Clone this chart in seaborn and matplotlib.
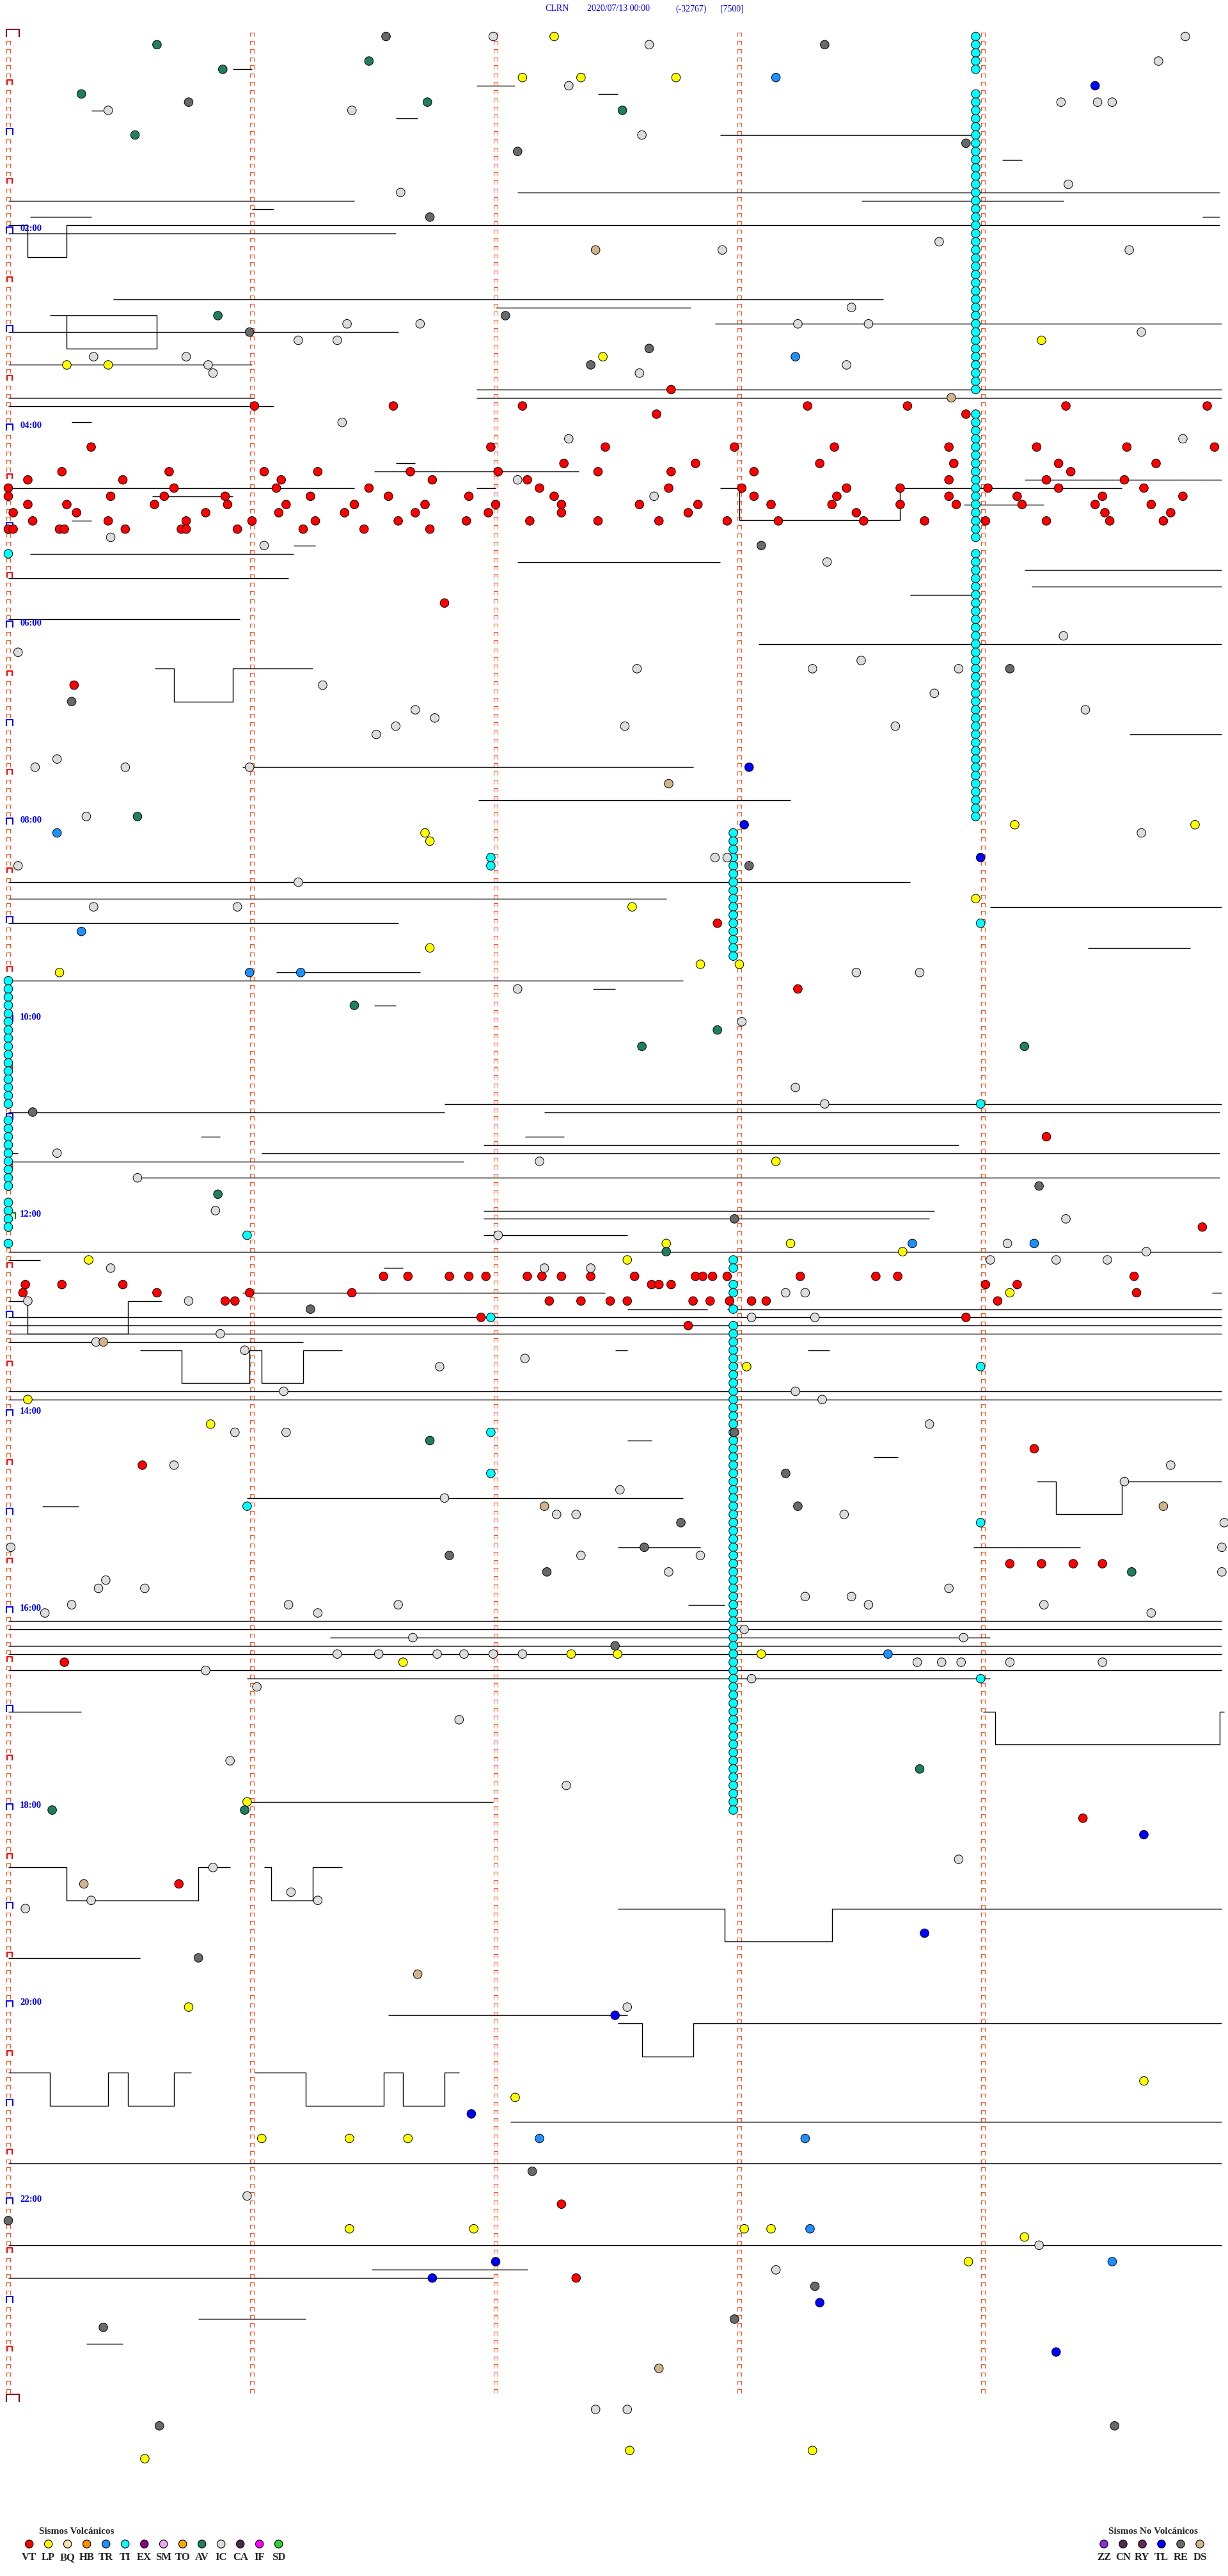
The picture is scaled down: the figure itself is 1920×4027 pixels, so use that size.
import numpy as np
import pandas as pd
import matplotlib
matplotlib.use("Agg")
import matplotlib.pyplot as plt
from matplotlib.path import Path
import seaborn as sns

# helicorder CLRN 2020/07/13: one line = 5 minutes, 288 lines per day
MIN_PER_ROW = 5.0
N_ROWS = 288

# event times in minutes after 00:00
vt_times = [217.72, 226.01, 226.58, 227.11, 228.28, 228.69, 229.34, 229.92, 232.66, 233.93,
            250.34, 251.98, 252.45, 252.98, 253.39, 253.86, 254.22, 254.59, 254.95,
            262.28, 262.82, 263.33, 263.88, 264.31, 264.71,
            265.22, 265.66, 266.05, 266.27, 266.65, 267.01, 267.42, 267.72, 268.06, 269.36,
            270.08, 270.47, 271.12, 271.74, 272.13, 273.86, 274.26, 274.58,
            275.0, 275.68, 276.10, 276.48, 277.18, 277.71, 278.01, 278.44, 278.66, 279.02, 279.31, 279.66,
            280.0, 280.42, 280.64, 280.89, 281.24, 281.56, 281.89, 282.24, 283.06, 283.40, 283.86,
            284.14, 284.49, 284.82,
            285.08, 285.24, 285.60, 285.90, 286.14, 286.42, 286.71, 287.0, 287.27, 287.59, 287.83,
            288.13, 288.38, 288.66, 288.89, 289.16, 289.46, 289.69,
            290.02, 290.28, 290.81, 291.11, 291.38, 291.67, 291.97, 292.27, 292.79, 293.48, 294.50, 294.77,
            295.10, 295.41, 295.73, 296.0, 296.26, 296.60, 296.88, 297.14, 297.42, 297.67, 297.95,
            298.16, 298.51, 298.76, 299.01, 299.26, 299.52, 299.74,
            300.0, 300.02, 300.21, 300.23, 300.48, 300.71, 300.73, 300.94, 301.21, 301.46, 301.73,
            346.79, 395.27, 542.91, 583.24, 674.26, 729.90,
            756.54, 756.64, 756.81, 756.89, 756.96, 757.13, 757.19, 757.27, 757.39, 757.57, 757.82,
            757.85, 757.89, 757.95, 758.25, 758.56, 758.65, 759.62,
            760.07, 760.22, 760.47, 762.64, 762.67, 762.72, 764.01, 764.14,
            765.06, 765.61, 765.99, 766.41, 769.63,
            770.89, 770.93, 772.22, 772.35, 772.47, 772.54, 772.81, 772.88, 772.96, 773.05, 773.11, 774.06,
            781.94, 783.93, 787.79, 864.21, 870.55, 934.11, 934.24, 934.37, 934.49,
            990.23, 1089.41, 1125.70, 1322.27, 1367.33]

lp_times = [2.24, 27.11, 27.35, 27.74, 189.24, 197.44, 200.24, 200.41, 484.13, 484.87, 486.71, 491.73,
            528.97, 532.56, 556.73, 567.84, 568.0, 570.21, 688.15, 737.70, 738.21, 743.67, 745.33,
            747.54, 769.11, 813.03, 830.08, 845.83, 987.31, 987.50, 988.09, 991.62, 1075.98,
            1200.74, 1249.66, 1257.08, 1281.04, 1281.40, 1281.64, 1336.40, 1336.91, 1338.02,
            1338.13, 1344.17, 1358.94, 1472.55, 1473.30, 1475.56]

tr_times = [28.15, 198.23, 485.20, 545.30, 570.99, 571.20, 738.71, 739.21, 988.61,
            1282.18, 1283.27, 1338.29, 1359.53]

# TI tremor repeats every line at almost the same phase: rows listed per column
ti_rows_a = [0, 1, 2, 3, 4, 7, 8, 9, 10, 11, 12, 13, 14, 15, 16, 17, 18, 19, 20, 21, 22, 23, 24,
             25, 26, 27, 28, 29, 30, 31, 32, 33, 34, 35, 36, 37, 38, 39, 40, 41, 42, 43,
             46, 47, 48, 49, 50, 51, 52, 53, 54, 55, 56, 57, 58, 59, 60, 61,
             63, 64, 65, 66, 67, 68, 69, 70, 71, 72, 73, 74, 75, 76, 77, 78, 79, 80, 81, 82,
             83, 84, 85, 86, 87, 88, 89, 90, 91, 92, 93, 94, 95]
ti_phase_a = 3.97
ti_rows_b = [97, 98, 99, 100, 101, 102, 103, 104, 105, 106, 107, 108, 109, 110, 111, 112,
             149, 150, 152, 153, 155, 157, 158, 159, 160, 161, 162, 163, 164, 165, 166, 167, 168,
             169, 170, 171, 172, 173, 174, 175, 176, 177, 178, 179, 180, 181, 182, 183, 184, 185,
             186, 187, 188, 189, 190, 191, 192, 193, 194, 195, 196, 197, 198, 199, 200, 201, 202,
             203, 204, 205, 206, 207, 208, 209, 210, 211, 212, 213, 214, 215, 216]
ti_phase_b = 2.975
ti_rows_c = [63, 115, 116, 117, 118, 119, 120, 121, 122, 123, 124, 125, 126, 127, 128, 129, 130,
             132, 133, 134, 135, 136, 137, 138, 139, 140, 142, 143, 144, 145, 147]
ti_phase_c = 0.0
ti_other = [501.98, 506.98, 543.99, 653.99, 730.98, 781.98, 813.99, 851.98, 876.98, 895.98,
            908.99, 1003.99]

av_times = [5.61, 16.48, 20.88, 35.30, 41.72, 47.52, 60.52, 170.86, 475.53, 591.42, 607.91,
            617.60, 619.17, 705.86, 742.70, 856.73, 939.61, 1058.74, 1080.18, 1080.97]

ic_times = [1.99, 4.83, 7.63, 19.72, 32.30, 44.32, 44.47, 44.53, 45.41, 46.41, 62.60, 94.35, 96.61,
            128.82, 132.93, 134.60, 168.46, 176.39, 176.69, 178.24, 178.53, 184.65, 186.19, 186.35,
            195.35, 195.73, 200.82, 203.44, 205.84, 207.59, 236.37, 247.30, 249.82, 272.09, 282.65,
            305.42, 311.05, 323.36, 369.33, 375.04, 383.50, 387.58, 388.30, 388.90, 396.29, 403.80,
            411.67, 414.42, 416.75, 421.59, 422.53, 423.64, 426.51, 440.20, 445.11, 445.48, 445.99,
            475.32, 489.65, 502.90, 502.95, 505.04, 516.19, 530.35, 530.94, 573.48, 573.74, 582.09,
            603.01, 643.23, 653.35, 680.20, 687.18, 695.53, 715.85, 724.34, 732.01, 739.10, 744.67,
            749.03, 749.30, 749.51, 750.42, 752.20, 752.39, 768.19, 768.27, 770.08, 770.74, 783.05,
            783.31, 790.87, 795.36, 800.97, 807.12, 811.77, 826.13, 828.23, 833.34, 848.78, 850.93,
            851.14, 870.68, 874.77, 884.58, 887.51, 891.79, 902.25, 902.33, 903.43, 909.99, 920.01,
            924.98, 927.35, 927.84, 937.71, 939.98, 940.40, 945.37, 945.56, 948.86, 953.27, 953.46,
            955.26, 956.15, 956.60, 958.53, 959.25, 960.15, 961.27, 964.69, 973.02, 976.66, 978.92,
            986.35, 986.52, 986.76, 986.87, 986.99, 987.11, 993.73, 993.83, 993.91, 994.11, 994.49,
            995.81, 1003.05, 1006.02, 1026.85, 1050.91, 1067.29, 1113.90, 1115.84, 1131.16,
            1135.34, 1136.27, 1140.07, 1202.54, 1315.98, 1349.23, 1363.15, 1447.41, 1447.54]

re_times = [1.55, 8.35, 40.74, 68.93, 72.09, 111.73, 172.04, 180.99, 192.63, 202.39, 313.09,
            389.11, 405.26, 508.04, 655.10, 704.23, 722.98, 776.24, 852.98, 878.19, 898.24, 907.76,
            922.61, 926.81, 937.21, 982.49, 1170.78, 1302.15, 1330.0, 1373.31, 1392.98, 1395.39,
            1455.62, 1459.54]

tl_times = [34.46, 448.04, 483.02, 503.99, 1099.66, 1158.76, 1207.49, 1266.90, 1357.0, 1366.74,
            1383.33, 1414.30]

ds_times = [132.41, 223.87, 457.71, 795.39, 897.20, 899.74, 1125.31, 1181.68, 1422.67]

# clipped trace pieces (start, end) in minutes, and square excursions (start, end, depth in lines)
trace_segments = [(20.92, 21.00), (31.92, 32.08), (37.42, 37.50), (45.34, 45.40), (51.59, 51.68),
                  (62.92, 63.97), (79.08, 79.16), (97.09, 99.97), (100.0, 101.42), (103.5, 104.33),
                  (106.0, 106.09), (110.09, 110.34), (114.90, 114.97), (115.0, 115.08),
                  (115.24, 119.97), (120.0, 121.59), (160.43, 163.59), (167.0, 167.8),
                  (170.17, 170.61), (177.9, 179.98), (180.0, 181.6), (200.0, 201.0),
                  (216.92, 219.98), (220.0, 221.01), (221.92, 224.98), (225.0, 226.09),
                  (235.26, 235.34), (261.59, 261.67), (266.50, 267.34), (274.17, 274.98),
                  (275.0, 276.42), (276.92, 277.0), (277.92, 278.0), (278.66, 279.57),
                  (280.59, 280.92), (288.92, 289.25), (295.26, 295.34), (311.17, 311.26),
                  (315.09, 316.17), (322.09, 322.92), (329.17, 329.98), (330.0, 331.15),
                  (339.2, 339.98), (343.7, 343.97), (355.0, 355.95), (373.08, 374.98),
                  (385.6, 385.68), (385.92, 386.25), (429.6, 429.98), (445.96, 447.81),
                  (466.93, 468.21), (515.0, 518.7), (525.0, 527.7), (534.03, 534.98),
                  (540.0, 541.6),
                  (559.43, 559.85), (571.10, 571.69), (575.0, 577.77), (582.40, 582.49),
                  (591.50, 591.59), (651.79, 654.98), (655.0, 656.79), (657.20, 659.97),
                  (670.79, 670.87), (672.12, 672.28), (676.95, 678.9), (680.0, 680.04),
                  (681.04, 684.97), (685.0, 686.87), (695.53, 699.97), (716.95, 718.8),
                  (721.95, 723.78), (731.95, 732.54), (740.0, 744.98), (745.0, 745.13),
                  (751.54, 751.62), (765.96, 767.45), (769.94, 769.98), (770.0, 770.08),
                  (770.49, 770.63), (777.54, 777.87), (777.95, 779.98), (780.0, 784.98),
                  (785.0, 789.98), (790.0, 794.98), (795.0, 796.21),
                  (800.54, 800.71), (800.99, 801.04), (801.21, 801.37), (802.49, 802.54),
                  (803.28, 803.37), (825.0, 829.98), (830.0, 834.98), (857.54, 857.64),
                  (868.55, 868.65), (884.22, 884.30), (884.57, 884.98), (890.98, 892.77),
                  (895.14, 895.29), (922.50, 922.84), (923.96, 924.40), (957.79, 957.94),
                  (965.0, 969.98), (970.0, 974.98), (976.32, 979.03), (980.0, 984.98),
                  (985.0, 989.98), (995.0, 999.98), (1000.98, 1004.03), (1020.0, 1020.30),
                  (1024.0, 1024.05), (1024.97, 1024.99), (1075.98, 1076.99),
                  (1115.0, 1115.24), (1115.78, 1115.91), (1116.05, 1116.08), (1116.25, 1116.37),
                  (1142.5, 1142.94), (1143.38, 1144.98), (1170.0, 1170.54), (1206.56, 1207.54),
                  (1212.50, 1212.60), (1212.81, 1214.98), (1240.0, 1240.17), (1240.41, 1240.49),
                  (1240.68, 1240.75), (1241.01, 1241.22), (1241.54, 1241.62), (1241.79, 1241.85),
                  (1272.06, 1274.98), (1295.0, 1299.98), (1345.0, 1349.98), (1361.49, 1362.13),
                  (1365.0, 1366.99), (1390.78, 1391.22), (1405.32, 1405.47)]
trace_pulses = [(115.08, 115.24, 3.9), (170.24, 170.61, 4.0), (278.0, 278.66, 3.9),
                (385.68, 385.92, 4.0),
                (770.08, 770.49, 4.0), (800.71, 800.99, 4.0), (801.04, 801.21, 4.0),
                (884.30, 884.57, 4.0), (1024.05, 1024.97, 4.0), (1115.24, 1115.78, 4.0),
                (1116.08, 1116.25, 4.0), (1142.94, 1143.38, 4.0), (1212.60, 1212.81, 4.0),
                (1240.17, 1240.41, 4.0), (1240.49, 1240.68, 4.0), (1241.22, 1241.54, 4.0),
                (1241.62, 1241.79, 4.0)]

type_order = ["VT", "LP", "BQ", "HB", "TR", "TI", "EX", "SM", "TO", "AV", "IC", "CA", "IF", "SD"]
type_colors = ["#FF0000", "#FFFF00", "#F2E6B0", "#FF8C00", "#1E90FF", "#00FFFF", "#8B008B",
               "#EEAAEE", "#FFA500", "#1F7F5F", "#DCDCDC", "#4D2A4D", "#FF00FF", "#32CD32"]
other_order = ["ZZ", "CN", "RY", "TL", "RE", "DS"]
other_colors = ["#8A2BE2", "#4F2F4F", "#5C2D5C", "#0000FF", "#696969", "#D2B48C"]

time_labels = ["02:00", "04:00", "06:00", "08:00", "10:00", "12:00",
               "14:00", "16:00", "18:00", "20:00", "22:00"]

# ---- build event table
ti_times = ([r * MIN_PER_ROW + ti_phase_a for r in ti_rows_a] +
            [r * MIN_PER_ROW + ti_phase_b for r in ti_rows_b] +
            [r * MIN_PER_ROW + ti_phase_c for r in ti_rows_c] + ti_other)
lists = {"VT": vt_times, "LP": lp_times, "TR": tr_times, "TI": ti_times, "AV": av_times,
         "IC": ic_times, "RE": re_times, "TL": tl_times, "DS": ds_times}
events = pd.concat([pd.DataFrame({"t": v, "tipo": k}) for k, v in lists.items()], ignore_index=True)
events["fila"] = np.floor(events["t"] / MIN_PER_ROW + 1e-9).astype(int)
events["minuto"] = events["t"] - MIN_PER_ROW * events["fila"]

palette = dict(zip(type_order + other_order, type_colors + other_colors))

# ---- figure: pixel layout of the original 1920x4027 image
W, H = 1920, 4027
X0, PX_MIN = 13.0, 381.0
Y0, PX_ROW = 57.0, 12.836


def px_x(p):
    return (p - X0) / PX_MIN


def px_y(p):
    return (p - Y0) / PX_ROW


sns.set_style("white")
plt.rcParams["font.family"] = ["Liberation Serif", "DejaVu Serif"]

fig = plt.figure(figsize=(W / 100, H / 100), dpi=100)
ax = fig.add_axes([0, 0, 1, 1])
ax.set_xlim(px_x(0), px_x(W))
ax.set_ylim(px_y(H), px_y(0))
ax.axis("off")

# minute ticks on every line
tick_mark = Path([(-1, -1), (-1, 1), (1, 1), (1, -1)],
                 [Path.MOVETO, Path.LINETO, Path.LINETO, Path.LINETO])
rows = np.arange(N_ROWS)
for col in range(5):
    rr = rows if col > 0 else rows[rows % 6 != 0]
    ax.plot(np.full(len(rr), col), rr - 0.23, ls="none", marker=tick_mark, ms=4.3,
            mew=0.8, mec="#FF4F1A", mfc="none", zorder=1)

# half hour / hour markers
for r in range(0, N_ROWS + 1, 6):
    if r in (0, N_ROWS):
        mk, col, ms, dx = Path([(-1, -0.55), (-1, 0.55), (1, 0.55), (1, -0.55)],
                               tick_mark.codes), "#8B0000", 14.5, 7
    elif r == 144:
        mk, col, ms, dx = Path([(-1, -0.7), (-1, 0.7), (1, 0.7), (1, -0.7)],
                               tick_mark.codes), "#008000", 10.0, 4
    elif r % 12 == 0:
        mk, col, ms, dx = tick_mark, "#0000FF", 7.0, 2.5
    else:
        mk, col, ms, dx = tick_mark, "#FF0000", 6.3, 2
    ax.plot([px_x(X0 + dx)], [r - 0.38], marker=mk, ms=ms, mew=1.5, mec=col, mfc="none", zorder=2)

for i, lab in enumerate(time_labels):
    ax.text(px_x(31), (i + 1) * 24 - 0.05, lab, color="#0000FF", fontsize=10.5,
            fontweight="bold", ha="left", va="bottom", zorder=5)

# seismic trace (clipped)
for a, b in trace_segments:
    r = int(a // MIN_PER_ROW)
    ax.hlines(r, a - r * MIN_PER_ROW, b - r * MIN_PER_ROW, color="black", lw=1.0, zorder=2)
for a, b, d in trace_pulses:
    r = int(a // MIN_PER_ROW)
    x0, x1 = a - r * MIN_PER_ROW, b - r * MIN_PER_ROW
    ax.plot([x0, x0, x1, x1], [r, r + d, r + d, r], color="black", lw=1.0, zorder=2)

# classified events
sns.scatterplot(data=events, x="minuto", y="fila", hue="tipo", palette=palette, s=95,
                edgecolor="black", linewidth=0.7, legend=False, ax=ax, zorder=4)

# header
hdr_y = px_y(14)
for txt, xp in [("CLRN", 852), ("2020/07/13 00:00", 918), ("(-32767)", 1056), ("[7500]", 1126)]:
    ax.text(px_x(xp), hdr_y, txt, color="#0000FF", fontsize=10, ha="left", va="center")

# legends
ax.text(px_x(61), px_y(3957), "Sismos Volcánicos", fontsize=11, fontweight="bold",
        ha="left", va="center")
ax.text(px_x(1733), px_y(3957), "Sismos No Volcánicos", fontsize=11, fontweight="bold",
        ha="left", va="center")
leg_x = [px_x(45.7 + 30 * i) for i in range(len(type_order))]
ax.scatter(leg_x, [px_y(3977)] * len(leg_x), s=80, c=type_colors, edgecolors="black",
           linewidths=0.8, zorder=4)
for xx, lab in zip(leg_x, type_order):
    ax.text(xx, px_y(3998), lab, fontsize=12, fontweight="bold", ha="center", va="center")
leg_x2 = [px_x(1726 + 30 * i) for i in range(len(other_order))]
ax.scatter(leg_x2, [px_y(3977)] * len(leg_x2), s=80, c=other_colors, edgecolors="black",
           linewidths=0.8, zorder=4)
for xx, lab in zip(leg_x2, other_order):
    ax.text(xx, px_y(3998), lab, fontsize=12, fontweight="bold", ha="center", va="center")

fig.savefig("out.png", dpi=100, facecolor="white")
